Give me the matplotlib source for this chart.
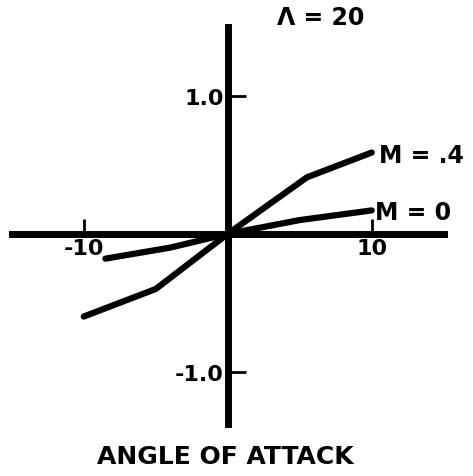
import matplotlib
matplotlib.use('Agg')
import matplotlib.pyplot as plt

# normal force curves vs angle of attack, sweep 20
alpha_m04 = [-10, -5, 0, 5.5, 10]
cn_m04 = [-0.60, -0.40, 0.0, 0.41, 0.59]
alpha_m0 = [-8.5, -4, 0, 5, 10]
cn_m0 = [-0.18, -0.10, 0.0, 0.10, 0.17]

x_ticks = [-10, 10]
x_labels = ['-10', '10']
y_ticks = [-1.0, 1.0]
y_labels = ['-1.0', '1.0']

plt.rcParams['font.family'] = 'DejaVu Sans'
plt.rcParams['font.weight'] = 'bold'

fig = plt.figure(figsize=(4.73, 4.77), dpi=100)
ax = fig.add_axes([0.025, 0.109, 0.913, 0.832])

ax.plot(alpha_m04, cn_m04, color='black', lw=4.5, solid_capstyle='round', solid_joinstyle='round')
ax.plot(alpha_m0, cn_m0, color='black', lw=4.5, solid_capstyle='round', solid_joinstyle='round')

ax.set_xlim(-15, 15)
ax.set_ylim(-1.38, 1.5)

# axes cross at the origin
ax.spines['left'].set_position(('data', 0))
ax.spines['bottom'].set_position(('data', 0))
ax.spines['right'].set_visible(False)
ax.spines['top'].set_visible(False)
for s in ['left', 'bottom']:
    ax.spines[s].set_linewidth(5)

ax.set_xticks(x_ticks)
ax.set_xticklabels(x_labels)
ax.set_yticks(y_ticks)
ax.set_yticklabels(y_labels)
ax.tick_params(axis='x', direction='in', length=11, width=2, pad=3, labelsize=16)
ax.tick_params(axis='y', direction='in', length=13, width=2, pad=3, labelsize=16)
ax.patch.set_visible(False)

ax.text(10.5, 0.57, 'M = .4', fontsize=17, va='center', ha='left', clip_on=False)
ax.text(10.2, 0.16, 'M = 0', fontsize=17, va='center', ha='left', clip_on=False)
ax.text(3.4, 1.57, 'Λ = 20', fontsize=17, va='center', ha='left', clip_on=False)

fig.text(225 / 473, 1 - 457 / 477, 'ANGLE OF ATTACK', fontsize=18, ha='center', va='center')

fig.savefig('out.png', dpi=100)
